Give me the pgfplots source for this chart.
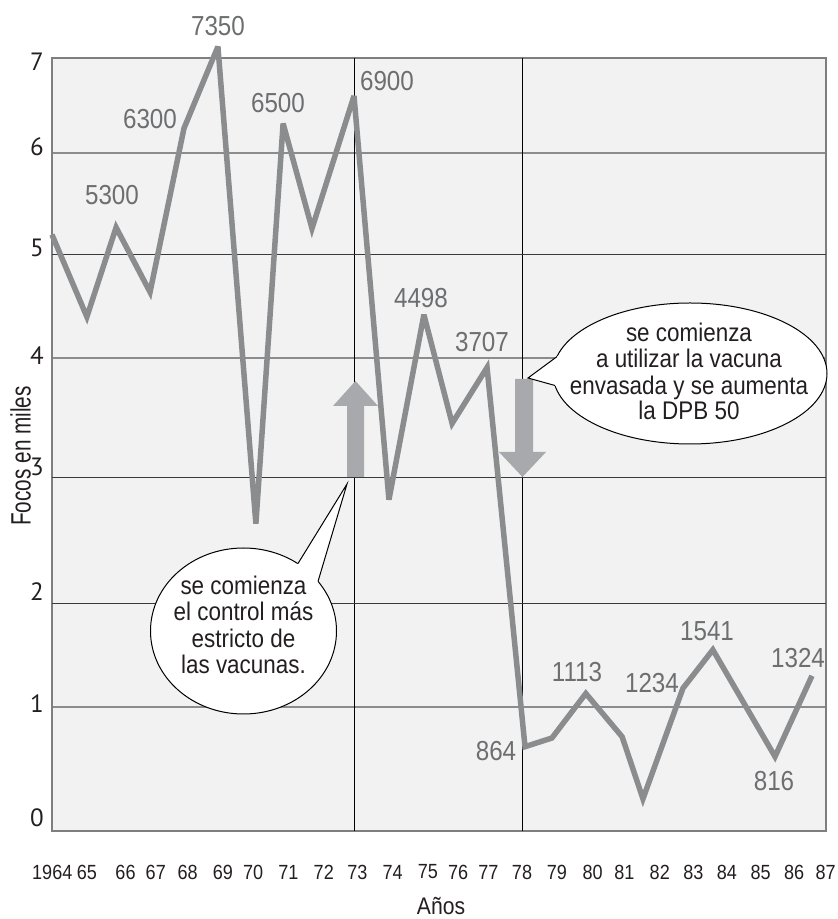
\documentclass[border=0pt]{standalone}
\usepackage{pgfplots}
\pgfplotsset{compat=1.18}
\usepackage{fontspec}
\setmainfont{Liberation Sans}[FakeStretch=0.88]
\newfontfamily\tickfont{PT Sans}
\newfontfamily\labfont{Liberation Sans}[FakeStretch=0.74]
\definecolor{plotbg}{HTML}{F2F2F2}
\definecolor{linegray}{HTML}{8A8C8E}
\definecolor{labgray}{HTML}{6D6E70}
\definecolor{arrowgray}{HTML}{A7A9AC}
\definecolor{gridgray}{HTML}{8C8C8C}
\definecolor{griddark}{HTML}{3A3A3A}
\definecolor{framegray}{HTML}{7F7F7F}
\definecolor{textblack}{HTML}{231F20}
\begin{document}
\begin{tikzpicture}
% picture frame in reference pixels (1 px = 1 bp), axis box lower-left at (0,0)
\begin{scope}[x=1bp,y=-1bp,shift={(-52bp,831bp)}]
\path[use as bounding box] (0,0) rectangle (838,919);
\end{scope}
\begin{axis}[
  at={(0,0)}, anchor=south west,
  scale only axis, width=774bp, height=773bp,
  xmin=1964.012, xmax=1987.048,
  ymin=0, ymax=7,
  % the chart's own (uneven) vertical scale: gridlines 0..7 thousand
  y coord trafo/.code={\pgfmathparse{(#1<1) ? (#1*124) : ((#1<2) ? (124+(#1-1)*104) : ((#1<3) ? (228+(#1-2)*126) : ((#1<4) ? (354+(#1-3)*119) : ((#1<5) ? (473+(#1-4)*103) : ((#1<6) ? (576+(#1-5)*102) : (678+(#1-6)*95))))))}},
  clip=false,
  axis background/.style={fill=plotbg},
  axis line style={framegray, line width=1.6bp},
  major tick length=0pt,
  /pgf/number format/assume math mode=true,
  xtick={1964.02,1965.05,1966.2,1967.1,1968.05,1969.1,1970.0,1971.05,1972.1,1973.1,1974.15,1975.2,1976.1,1977.0,1978.0,1979.04,1980.1,1981.05,1982.1,1983.1,1984.1,1985.1,1986.1,1987.04},
  xticklabels={1964,65,66,67,68,69,70,71,72,73,74,75,76,77,78,79,80,81,82,83,84,85,86,87},
  xticklabel style={anchor=center, yshift=-41bp, inner sep=0pt, font=\fontsize{20.5bp}{24bp}\selectfont, text=textblack},
  ytick={1,4,6}, yticklabels={},
  ymajorgrids=true,
  major grid style={gridgray, line width=1.5bp},
  extra y ticks={2,3,5}, extra y tick labels={},
  extra y tick style={grid=major, major grid style={griddark, line width=1bp}},
  extra x ticks={1973,1978}, extra x tick labels={},
  extra x tick style={grid=major, major grid style={black, line width=1bp}},
]
\addplot[linegray, line width=5.5bp, line join=miter, miter limit=4, line cap=butt] coordinates {
(1964.01,5.20) (1965.05,4.40) (1965.92,5.27) (1966.93,4.64) (1967.94,6.26)
(1968.95,7.12) (1970.08,2.63) (1970.89,6.31) (1971.75,5.26) (1973.00,6.60)
(1974.04,2.82) (1975.08,4.42) (1975.92,3.45) (1976.96,3.92) (1978.09,0.68)
(1978.89,0.75) (1979.90,1.13) (1980.98,0.76) (1981.60,0.26) (1982.79,1.18)
(1983.68,1.55) (1985.53,0.60) (1986.63,1.30)
};
\end{axis}
\begin{scope}[x=1bp,y=-1bp,shift={(-52bp,831bp)}]
% arrows
\fill[arrowgray] (347,477) -- (347,406) -- (333,406) -- (355.5,381) -- (378,406) -- (364,406) -- (364,477) -- cycle;
\fill[arrowgray] (515,379) -- (533,379) -- (533,452) -- (546,452) -- (522.5,477) -- (499,452) -- (515,452) -- cycle;
% callout 1
\filldraw[fill=white, draw=black, line width=1bp] (243.5,631) ellipse [x radius=93, y radius=83];
\fill[white] (298,563.5) -- (347,484) -- (318,581.5) -- (305,590) -- (290,575) -- cycle;
\draw[black, line width=1bp, line join=miter] (298,563.5) -- (347,484) -- (318,581.5);
% callout 2
\filldraw[fill=white, draw=black, line width=1bp] (690,373.5) ellipse [x radius=137, y radius=70.5];
\fill[white] (557,356.6) -- (528,378) -- (555,385.5) -- (566,392) -- (566,352) -- cycle;
\draw[black, line width=1bp, line join=miter] (557,356.6) -- (528,378) -- (555,385.5);
% callout texts
\begin{scope}[every node/.style={anchor=base, inner sep=0pt, text=textblack, font=\fontsize{25.5bp}{30bp}\selectfont}]
\node at (243.5,595) {se comienza};
\node at (243.5,621) {el control más};
\node at (243.5,648) {estricto de};
\node at (243.5,674) {las vacunas.};
\node at (689,342) {se comienza};
\node at (689,368) {a utilizar la vacuna};
\node at (689,395) {envasada y se aumenta};
\node at (689,420) {la DPB 50};
\end{scope}
% value labels
\begin{scope}[every node/.style={inner sep=0pt, text=labgray, font=\fontsize{27.5bp}{32bp}\selectfont}]
\node at (218,26) {7350};
\node at (150,119) {6300};
\node at (112,195) {5300};
\node at (278,103) {6500};
\node at (387,81) {6900};
\node at (421,298) {4498};
\node at (482,342) {3707};
\node at (496,751) {864};
\node at (577,672) {1113};
\node at (652,683) {1234};
\node at (707,631) {1541};
\node at (774,781) {816};
\node at (798,658) {1324};
\end{scope}
% y tick labels
\begin{scope}[every node/.style={anchor=east, inner sep=0pt, text=textblack, font=\tickfont\fontsize{25bp}{29bp}\selectfont}]
\node at (44,62) {7};
\node at (44,147) {6};
\node at (44,248) {5};
\node at (44,356) {4};
\node at (44,467) {3};
\node at (44,592) {2};
\node at (44,704) {1};
\node at (44,818) {0};
\end{scope}
% axis titles
\node[rotate=90, inner sep=0pt, text=textblack, font=\labfont\fontsize{28bp}{32bp}\selectfont] at (20.5,456) {Focos en miles};
\node[anchor=base, inner sep=0pt, text=textblack, font=\fontsize{24bp}{28bp}\selectfont] at (441,914) {Años};
\end{scope}
\end{tikzpicture}
\end{document}
